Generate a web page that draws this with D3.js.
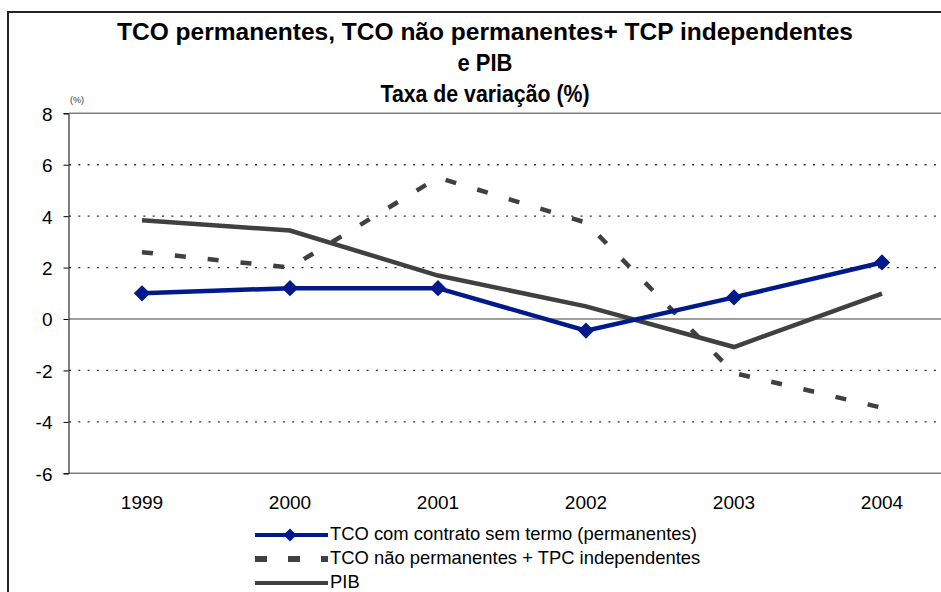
<!DOCTYPE html>
<html>
<head>
<meta charset="utf-8">
<script src="https://cdn.jsdelivr.net/npm/d3@7"></script>
<style>
  html, body { margin: 0; padding: 0; background: #fff; }
  svg { display: block; }
  svg text { font-family: "Liberation Sans", Arial, sans-serif; }
</style>
</head>
<body>
<div id="chart"></div>
<script>
// Values
var years = ['1999', '2000', '2001', '2002', '2003', '2004'];
var permanentes = [1.0, 1.2, 1.2, -0.45, 0.84, 2.2];
var naoPermanentes = [2.6, 2.0, 5.5, 3.75, -2.1, -3.45];
var pib = [3.84, 3.44, 1.69, 0.49, -1.09, 0.99];
var yTicks = [8, 6, 4, 2, 0, -2, -4, -6];
var gridValues = [6, 4, 2, -2, -4];
var titleLines = ['TCO permanentes, TCO não permanentes+ TCP independentes', 'e PIB', 'Taxa de variação (%)'];
var legendLabels = ['TCO com contrato sem termo (permanentes)', 'TCO não permanentes + TPC independentes', 'PIB'];

var width = 941, height = 592;

var svg = d3.select('#chart').append('svg')
    .attr('width', width)
    .attr('height', height);

// outer frame (cut at right and bottom like the source)
svg.append('rect')
    .attr('x', 8).attr('y', 12)
    .attr('width', 1000).attr('height', 1000)
    .attr('fill', 'none')
    .attr('stroke', '#222')
    .attr('stroke-width', 2);

// --- Scales ---
var x = d3.scaleBand().domain(years).range([68, 956]);
var y = d3.scaleLinear().domain([-6, 8]).range([473.3, 113.3]);
var cx = function (d, i) { return x(years[i]) + x.bandwidth() / 2; };

// --- Title ---
var titleY = [40, 71, 102];
var titleW = [736, 55, 209];
svg.append('g').selectAll('text')
    .data(titleLines)
    .join('text')
    .attr('x', 485)
    .attr('y', function (d, i) { return titleY[i]; })
    .attr('text-anchor', 'middle')
    .attr('font-weight', 'bold')
    .attr('font-size', '24px')
    .attr('textLength', function (d, i) { return titleW[i]; })
    .attr('lengthAdjust', 'spacingAndGlyphs')
    .text(function (d) { return d; });

// --- Grid ---
svg.append('g').selectAll('line')
    .data(gridValues)
    .join('line')
    .attr('x1', 69).attr('x2', 941)
    .attr('y1', function (d) { return y(d); })
    .attr('y2', function (d) { return y(d); })
    .attr('stroke', '#333')
    .attr('stroke-width', 1.3)
    .attr('stroke-dasharray', '2,7.3');

svg.append('g').selectAll('line')
    .data([8, 0, -6])
    .join('line')
    .attr('x1', 69).attr('x2', 941)
    .attr('y1', function (d) { return y(d); })
    .attr('y2', function (d) { return y(d); })
    .attr('stroke', '#808080')
    .attr('stroke-width', 1.5);

// --- Y axis ---
var yAxis = svg.append('g')
    .attr('transform', 'translate(68.5,0)')
    .call(d3.axisLeft(y).tickValues(yTicks).tickSize(5).tickPadding(11)
        .tickFormat(function (d) { return String(d); }));
yAxis.attr('font-family', null).attr('font-size', null);
yAxis.select('.domain').attr('stroke', '#000');
yAxis.selectAll('line').attr('stroke', '#000');
yAxis.selectAll('text')
    .attr('font-size', '19px')
    .attr('dy', '0.36em')
    .attr('fill', '#000');

svg.append('text')
    .attr('x', 70).attr('y', 103)
    .attr('font-size', '9px')
    .attr('fill', '#333')
    .text('(%)');

// --- X labels ---
svg.append('g').selectAll('text')
    .data(years)
    .join('text')
    .attr('x', function (d) { return x(d) + x.bandwidth() / 2; })
    .attr('y', 509)
    .attr('text-anchor', 'middle')
    .attr('font-size', '19px')
    .text(function (d) { return d; });

// --- Lines ---
var line = d3.line().x(cx).y(function (d) { return y(d); });

svg.append('path')
    .datum(naoPermanentes)
    .attr('d', line)
    .attr('fill', 'none')
    .attr('stroke', '#404040')
    .attr('stroke-width', 4.5)
    .attr('stroke-dasharray', '11,22');

svg.append('path')
    .datum(pib)
    .attr('d', line)
    .attr('fill', 'none')
    .attr('stroke', '#404040')
    .attr('stroke-width', 4.5);

svg.append('path')
    .datum(permanentes)
    .attr('d', line)
    .attr('fill', 'none')
    .attr('stroke', '#001a8c')
    .attr('stroke-width', 4.5);

var diamond = d3.symbol().type(d3.symbolDiamond2).size(170);
svg.append('g').selectAll('path')
    .data(permanentes)
    .join('path')
    .attr('d', diamond)
    .attr('transform', function (d, i) { return 'translate(' + cx(d, i) + ',' + y(d) + ')'; })
    .attr('fill', '#001a8c');

// --- Legend ---
var legY = [535, 559, 583];
var leg = svg.append('g');
leg.selectAll('line')
    .data(legendLabels)
    .join('line')
    .attr('x1', 255).attr('x2', 328)
    .attr('y1', function (d, i) { return legY[i]; })
    .attr('y2', function (d, i) { return legY[i]; })
    .attr('stroke', function (d, i) { return i === 0 ? '#001a8c' : '#404040'; })
    .attr('stroke-width', function (d, i) { return i === 1 ? 6 : 4; })
    .attr('stroke-dasharray', function (d, i) { return i === 1 ? '12,21' : null; });

leg.append('path')
    .attr('d', d3.symbol().type(d3.symbolDiamond2).size(110))
    .attr('transform', 'translate(290,' + legY[0] + ')')
    .attr('fill', '#001a8c');

leg.selectAll('text')
    .data(legendLabels)
    .join('text')
    .attr('x', 330)
    .attr('y', function (d, i) { return legY[i] + 4.5; })
    .attr('font-size', '18.4px')
    .text(function (d) { return d; });
</script>
</body>
</html>
